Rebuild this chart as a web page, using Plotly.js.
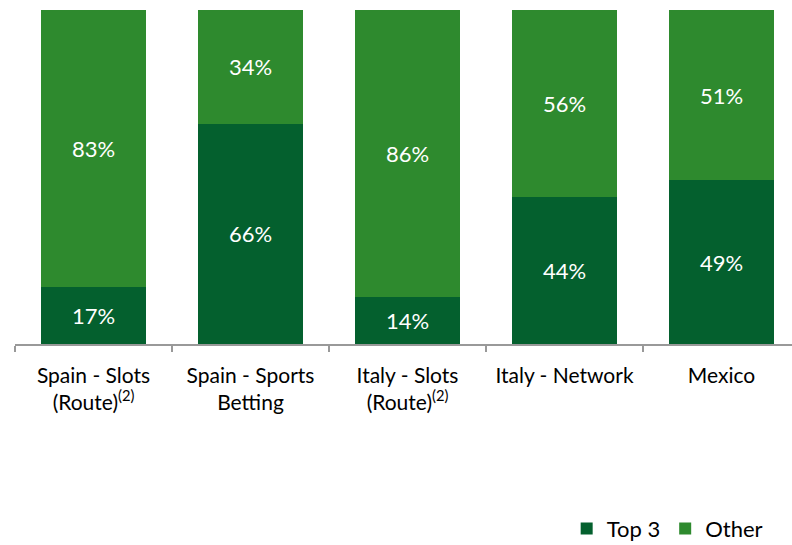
<!DOCTYPE html>
<html>
<head>
<meta charset="utf-8">
<script src="https://cdn.plot.ly/plotly-3.0.1.min.js"></script>
<style>html,body{margin:0;padding:0;background:#fff;}#chart{width:792px;height:545px;}</style>
</head>
<body>
<div id="chart"></div>
<script>
const categories = [
  "Spain - Slots<br>(Route)<sup>(2)</sup>",
  "Spain - Sports<br>Betting",
  "Italy - Slots<br>(Route)<sup>(2)</sup>",
  "Italy - Network",
  "Mexico"
];
const top3 = [17, 66, 14, 44, 49];
const other = [83, 34, 86, 56, 51];
const seriesNames = ["Top 3", "Other"];

const font = "Lato, 'Open Sans', 'Liberation Sans', sans-serif";

const traces = [
  {
    type: "bar", name: seriesNames[0], x: categories, y: top3,
    marker: {color: "#04602E"},
    text: top3.map(v => v + "%"), textposition: "inside", insidetextanchor: "middle",
    textfont: {color: "#ffffff", size: 22, family: font}, hoverinfo: "skip"
  },
  {
    type: "bar", name: seriesNames[1], x: categories, y: other,
    marker: {color: "#2E8A2E"},
    text: other.map(v => v + "%"), textposition: "inside", insidetextanchor: "middle",
    textfont: {color: "#ffffff", size: 22, family: font}, hoverinfo: "skip"
  }
];

const layout = {
  width: 792, height: 545,
  margin: {l: 15, r: 0, t: 10, b: 201, autoexpand: false},
  barmode: "stack", bargap: 0.33,
  paper_bgcolor: "#ffffff", plot_bgcolor: "#ffffff",
  font: {family: font, color: "#000000", size: 21},
  showlegend: true,
  legend: {orientation: "h", x: 0.71, xanchor: "left", y: -0.553, yanchor: "middle",
           font: {size: 22, color: "#000"}, traceorder: "normal", itemwidth: 30},
  xaxis: {
    type: "category", range: [-0.5, 4.449], showline: true, linecolor: "#999999", linewidth: 1.5,
    ticks: "outside", tickson: "boundaries", ticklen: 6, tickcolor: "#999999", tickwidth: 1.5,
    tickangle: 0, tickfont: {size: 21, color: "#000"}, showgrid: false, zeroline: false,
    automargin: false, ticklabelstandoff: 12
  },
  yaxis: {range: [0, 100], visible: false, showgrid: false, zeroline: false},
  uniformtext: {mode: false}
};

Plotly.newPlot("chart", traces, layout, {staticPlot: true, displayModeBar: false});
</script>
</body>
</html>
